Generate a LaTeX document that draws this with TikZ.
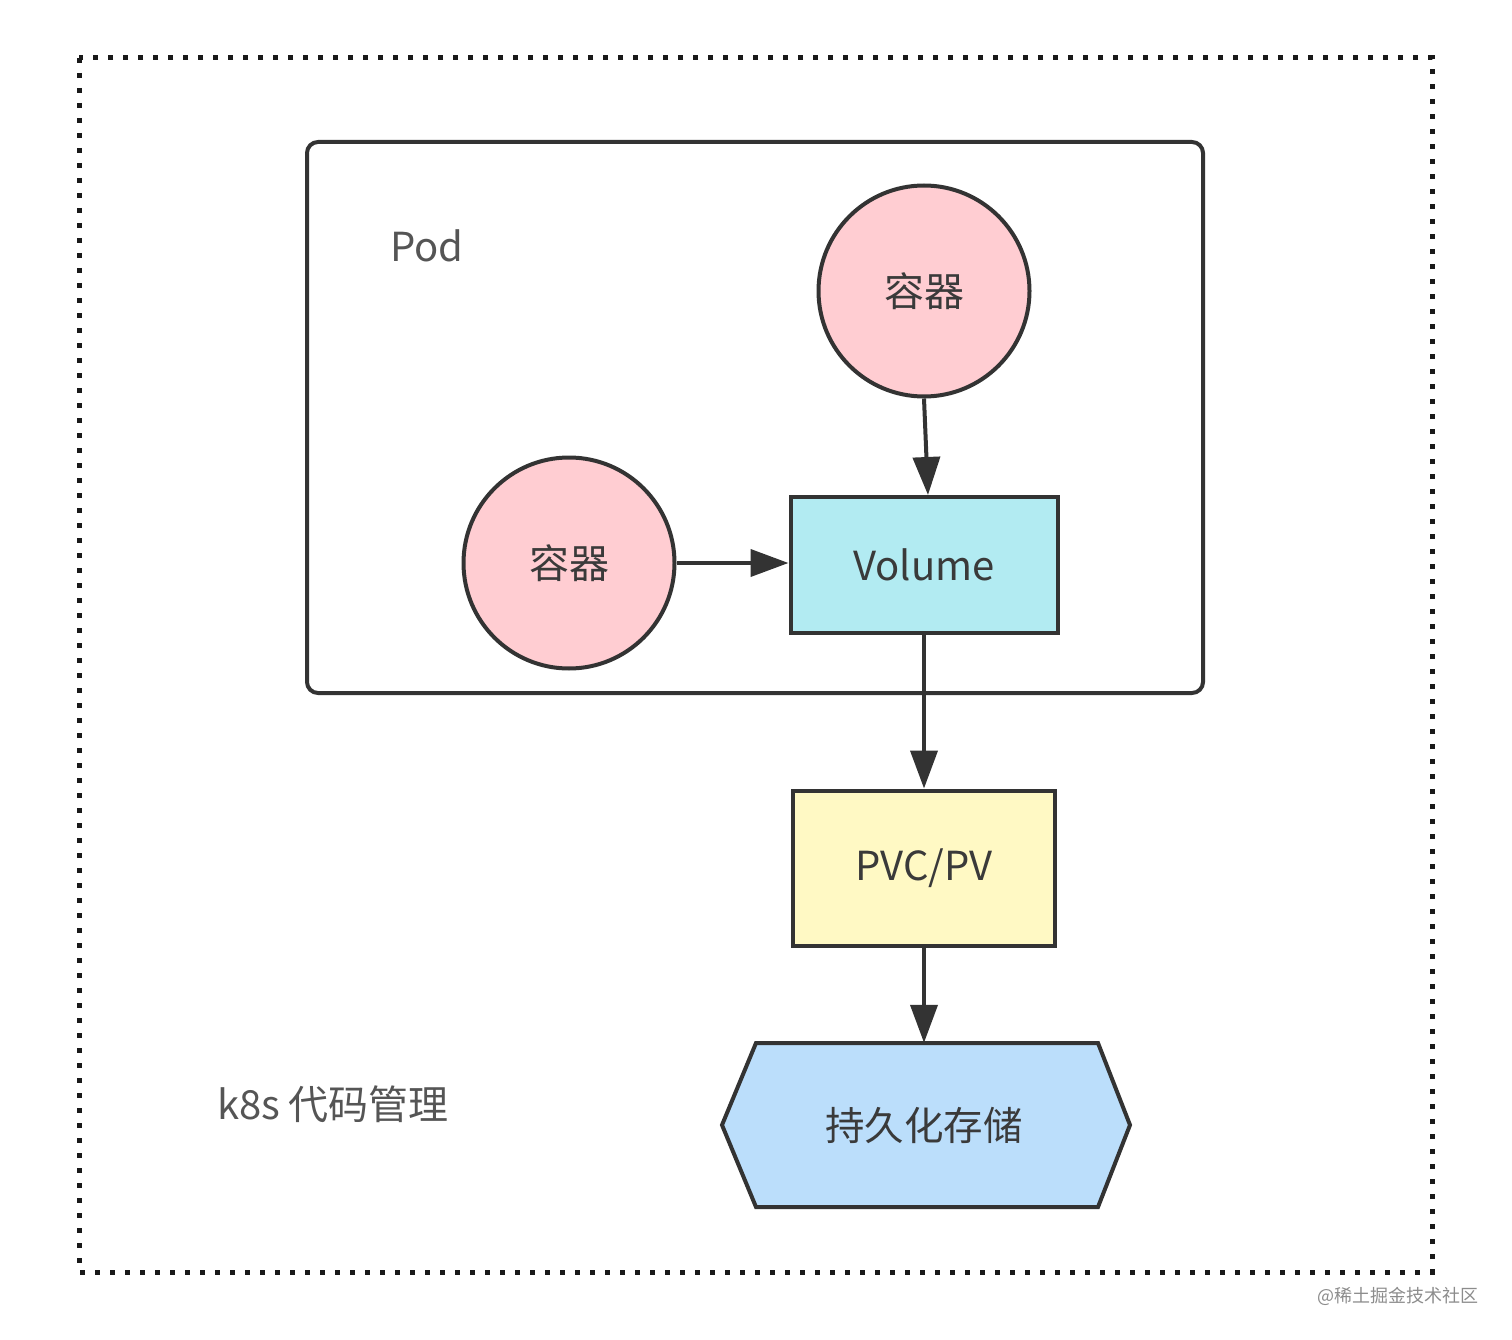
\documentclass[tikz,border=0pt]{standalone}
\usepackage{fontspec}
\setmainfont{Noto Sans CJK SC}
\usetikzlibrary{arrows.meta}
\definecolor{linec}{HTML}{333333}
\definecolor{pinkf}{HTML}{FFCDD2}
\definecolor{cyanf}{HTML}{B2EBF2}
\definecolor{yellowf}{HTML}{FFF9C4}
\definecolor{bluef}{HTML}{BBDEFB}
\definecolor{textc}{HTML}{3A3A3A}
\definecolor{labelc}{HTML}{555555}
\tikzset{
  shapeline/.style={draw=linec, line width=4pt},
  circ/.style={shapeline, circle, fill=pinkf, minimum size=211pt, inner sep=0pt, text=textc, font=\fontsize{40}{48}\selectfont},
  boxnode/.style={shapeline, rectangle, inner sep=0pt, text=textc, font=\fontsize{40}{48}\selectfont},
  lbl/.style={text=labelc, inner sep=0pt, font=\fontsize{40}{48}\selectfont},
  conn/.style={draw=linec, line width=4pt, -{Triangle[length=38pt,width=27pt]}},
}
\begin{document}
\begin{tikzpicture}[x=1pt,y=-1pt]
\useasboundingbox (0,0) rectangle (1512,1340);
% outer dotted frame
\draw[draw=black!90, line width=5pt, dash pattern=on 5pt off 10pt] (79,58) rectangle (1432,1272);
% pod box
\draw[shapeline, rounded corners=11pt] (307,142) rectangle (1203,693);
\node[lbl] (podlbl) at (427,246) {Pod};
\node[lbl] (k8slbl) at (333,1104) {k8s 代码管理};
% containers
\node[circ] (c1) at (924,291) {容器};
\node[circ] (c2) at (569,563) {容器};
% volume
\node[boxnode, fill=cyanf, minimum width=267pt, minimum height=136pt] (vol) at (924,565) {Volume};
% pvc
\node[boxnode, fill=yellowf, minimum width=262pt, minimum height=155pt] (pvc) at (924,868) {PVC/PV};
% hexagon storage
\fill[bluef] (722,1125) -- (756,1043) -- (1098,1043) -- (1130,1125) -- (1098,1207) -- (756,1207) -- cycle;
\draw[shapeline, line join=miter] (722,1125) -- (756,1043) -- (1098,1043) -- (1130,1125) -- (1098,1207) -- (756,1207) -- cycle;
\node[text=textc, inner sep=0pt, minimum width=342pt, minimum height=164pt, font=\fontsize{39.5}{47}\selectfont] (store) at (924,1125) {持久化存储};
% connectors
\draw[conn] (c1.south) -- ([xshift=4pt]vol.north);
\draw[conn] (c2.east) -- (c2.east -| vol.west);
\draw[conn] (vol.south) -- (pvc.north);
\draw[conn] (pvc.south) -- (store.north);
% watermark
\node[text=black!45, inner sep=0pt, font=\fontsize{18}{22}\selectfont] (wm) at (1398,1296) {@稀土掘金技术社区};
\end{tikzpicture}
\end{document}
